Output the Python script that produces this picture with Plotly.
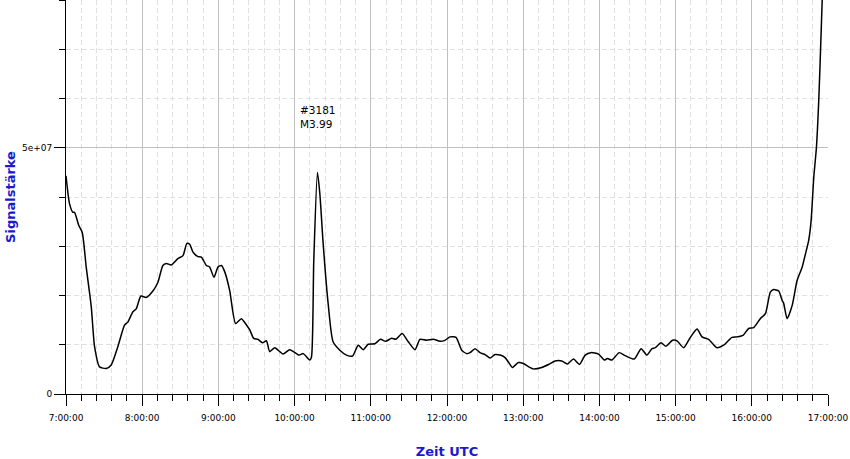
import pandas as pd
import plotly.graph_objects as go

# minutes after 07:00 UTC
minutes = [0, 2.8, 5.4, 6.7, 10.1, 12.8, 15.9, 19.9, 22.5, 26.4, 31.7, 35.6, 40.8, 46.1, 48.7,
           52.7, 55.3, 59.0, 63.2, 68.4, 72.4, 76.3, 79.0, 82.9, 88.1, 92.1, 95.2, 97.4, 100.0,
           103.9, 106.6, 110.5, 113.1, 116.5, 119.7, 122.4, 125.0, 128.9, 133.6, 138.1, 142.1,
           144.7, 147.8, 151.2, 154.7, 157.8, 160.4, 164.4, 170.9, 176.2, 183.5, 186.7, 192.0,
           193.3, 195.1, 198.0, 199.9, 202.5, 206.4, 210.3, 215.6, 220.9, 225.6, 230.1, 234.0,
           237.9, 243.2, 247.6, 251.7, 256.4, 259.8, 264.7, 269.5, 274.8, 278.7, 284.0, 289.2,
           294.5, 298.4, 302.4, 307.1, 311.6, 315.5, 318.1, 322.1, 326.0, 330.0, 333.9, 337.8,
           341.8, 345.7, 348.3, 351.5, 356.2, 360.1, 363.8, 368.0, 374.6, 379.9, 385.1, 390.4,
           394.8, 399.6, 404.3, 408.8, 413.3, 419.3, 423.8, 426.4, 429.8, 435.6, 440.3, 447.4,
           452.9, 457.4, 461.4, 464.0, 468.5, 472.4, 477.6, 481.1, 486.3, 491.6, 496.9, 500.8,
           506.0, 512.6, 517.8, 521.8, 524.4, 528.4, 533.1, 537.5, 541.5, 546.7, 550.7, 554.6,
           557.2, 561.2, 563.9, 565.1, 567.8, 571.8, 575.7, 579.7, 582.3, 584.8, 586.7, 588.8,
           590.9, 592.7, 594.1, 595.4, 596.4]

# signal strength in millions
signal_m = [44.3, 38.6, 36.9, 36.9, 34.2, 32.8, 25.8, 17.7, 9.6, 5.5, 5.2, 5.9, 9.6, 14.0, 14.6,
            16.7, 17.3, 19.9, 19.6, 20.9, 22.7, 26.1, 26.5, 26.2, 27.5, 28.1, 30.6, 30.4, 28.8,
            27.9, 27.8, 26.1, 25.8, 23.7, 25.8, 26.1, 24.8, 21.0, 14.3, 15.3, 14.0,
            13.0, 11.3, 11.1, 10.4, 10.8, 8.6, 9.4, 8.1, 9.0, 7.9, 8.2, 6.9,
            7.5, 27.1, 45.0, 40.6, 30.5, 18.4, 10.6, 8.9, 7.9, 7.7, 9.9, 9.0,
            10.1, 10.2, 11.1, 10.7, 11.3, 11.1, 12.3, 10.6, 9.0, 11.1, 10.9, 11.1,
            10.7, 10.9, 11.6, 11.5, 8.9, 8.2, 8.4, 9.2, 8.4, 8.0, 7.3, 8.0,
            7.9, 7.4, 6.5, 5.4, 6.4, 6.2, 5.6, 5.1, 5.4, 6.0, 6.7, 6.7,
            6.1, 7.1, 6.0, 7.9, 8.4, 8.1, 6.9, 7.2, 6.9, 8.4, 7.8, 7.1,
            9.2, 7.9, 9.2, 9.4, 10.4, 9.7, 10.9, 10.8, 9.4, 11.5, 13.2, 11.6,
            11.1, 9.4, 9.9, 10.9, 11.5, 11.6, 11.9, 13.3, 13.5, 15.3, 16.3, 20.7,
            21.2, 20.9, 19.0, 18.4, 15.3, 18.0, 23.1, 25.8, 28.5, 31.2, 35.2, 44.0,
            50.1, 59.5, 69.6, 79.7, 87.0]

y_tick_vals = [0, 5e7]
y_tick_text = ["0", "5e+07"]
annotation_text = "#3181<br>M3.99"
annotation_minute = 182.7
annotation_value = 5.62e7

base = pd.Timestamp("2024-01-01 07:00:00")
times = base + pd.to_timedelta(minutes, unit="m")
values = [v * 1e6 for v in signal_m]

fig = go.Figure()
fig.add_trace(go.Scatter(x=times, y=values, mode="lines",
                         line=dict(color="#000000", width=1.5, shape="spline", smoothing=0.6),
                         showlegend=False, hoverinfo="skip"))

grid_major = "#c0c0c0"
grid_minor = "#e0e0e0"

fig.update_layout(
    width=850, height=459,
    margin=dict(l=66, r=22, t=0, b=65),
    paper_bgcolor="white", plot_bgcolor="white",
    font=dict(family="DejaVu Sans", size=9, color="#000000"),
    annotations=[dict(
        x=base + pd.Timedelta(minutes=annotation_minute), y=annotation_value,
        xref="x", yref="y", text=annotation_text, showarrow=False,
        xanchor="left", yanchor="middle", align="left",
        font=dict(family="DejaVu Sans", size=10.5, color="#000000"))],
)

fig.update_xaxes(
    type="date", automargin=False,
    range=[base, base + pd.Timedelta(hours=10)],
    tick0=base, dtick=3600000, tickformat="%-H:%M:%S",
    ticks="outside", ticklen=11, tickcolor="#000000", tickwidth=1,
    ticklabelstandoff=4,
    showline=True, linecolor="#000000", linewidth=1,
    showgrid=True, gridcolor=grid_major, gridwidth=1,
    zeroline=False,
    minor=dict(dtick=720000, tick0=base, ticks="outside", ticklen=6, tickcolor="#000000",
               showgrid=True, gridcolor=grid_minor, griddash="5px,3px", gridwidth=1),
    title=dict(text="<b>Zeit UTC</b>", standoff=25,
               font=dict(family="DejaVu Sans", size=13, color="#1a1acc")),
)

fig.update_yaxes(
    automargin=False,
    range=[0, 8e7],
    tickmode="array", tickvals=y_tick_vals, ticktext=y_tick_text,
    ticks="outside", ticklen=11, tickcolor="#000000", tickwidth=1,
    showline=True, linecolor="#000000", linewidth=1,
    showgrid=True, gridcolor=grid_major, gridwidth=1,
    zeroline=False,
    minor=dict(tickmode="linear", tick0=0, dtick=1e7, ticks="outside", ticklen=6,
               tickcolor="#000000", showgrid=True, gridcolor=grid_minor,
               griddash="5px,3px", gridwidth=1),
    title=dict(text="<b>Signalstärke</b>", standoff=3,
               font=dict(family="DejaVu Sans", size=13, color="#1a1acc")),
)

fig.write_html("out.html", config={"displayModeBar": False},
               post_script="document.body.style.margin='0px';")
